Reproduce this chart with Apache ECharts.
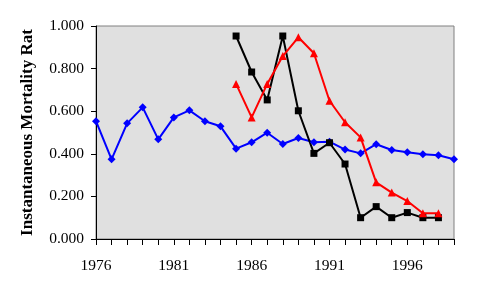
<!DOCTYPE html>
<html><head><meta charset="utf-8">
<script src="https://cdn.jsdelivr.net/npm/echarts@6/dist/echarts.min.js"></script>
<style>html,body{margin:0;padding:0;background:#fff}#c{width:482px;height:296px}</style>
</head><body><div id="c"></div>
<script>
const years = ['1976','1977','1978','1979','1980','1981','1982','1983','1984','1985','1986','1987','1988','1989','1990','1991','1992','1993','1994','1995','1996','1997','1998','1999'];
const blueSeries = [0.553,0.374,0.543,0.618,0.468,0.571,0.604,0.553,0.529,0.424,0.454,0.499,0.446,0.474,0.454,0.457,0.420,0.402,0.445,0.418,0.407,0.398,0.393,0.374];
const blackSeries = [null,null,null,null,null,null,null,null,null,0.953,0.784,0.653,0.953,0.602,0.402,0.452,0.352,0.100,0.152,0.100,0.124,0.100,0.100,null];
const redSeries = [null,null,null,null,null,null,null,null,null,0.728,0.571,0.728,0.859,0.947,0.872,0.649,0.548,0.477,0.266,0.218,0.178,0.121,0.121,null];
const yTitle = 'Instantaneous Mortality Rat';

const chart = echarts.init(document.getElementById('c'), null, {renderer:'canvas'});
const lab = {fontFamily:'Liberation Serif', fontSize:15.5, color:'#000'};
chart.setOption({
  animation:false,
  grid:{left:96, right:28, top:26, bottom:57, show:true, backgroundColor:'#e0e0e0', borderColor:'#808080', borderWidth:1},
  xAxis:{type:'category', data:years, boundaryGap:false,
    axisLine:{lineStyle:{color:'#000', width:1}},
    axisTick:{interval:0, length:6, lineStyle:{color:'#000'}},
    axisLabel:Object.assign({interval:4, margin:19}, lab),
    splitLine:{show:false}},
  yAxis:{type:'value', min:0, max:1, interval:0.2,
    name:yTitle, nameLocation:'middle', nameGap:60,
    nameTextStyle:{fontFamily:'Liberation Serif', fontWeight:'bold', fontSize:17, color:'#000'},
    axisLine:{show:true, lineStyle:{color:'#000', width:1}},
    axisTick:{show:true, length:5, lineStyle:{color:'#000'}},
    axisLabel:Object.assign({margin:12, formatter:v=>v.toFixed(3)}, lab),
    splitLine:{show:false}},
  series:[
    {type:'line', data:blueSeries, symbol:'diamond', symbolSize:8, showAllSymbol:true,
     lineStyle:{color:'#0000ff', width:2}, itemStyle:{color:'#0000ff'}},
    {type:'line', data:blackSeries, symbol:'rect', symbolSize:7, showAllSymbol:true,
     lineStyle:{color:'#000', width:2}, itemStyle:{color:'#000'}},
    {type:'line', data:redSeries, symbol:'triangle', symbolSize:8, showAllSymbol:true,
     lineStyle:{color:'#ff0000', width:2}, itemStyle:{color:'#ff0000'}}
  ]
});
</script></body></html>
